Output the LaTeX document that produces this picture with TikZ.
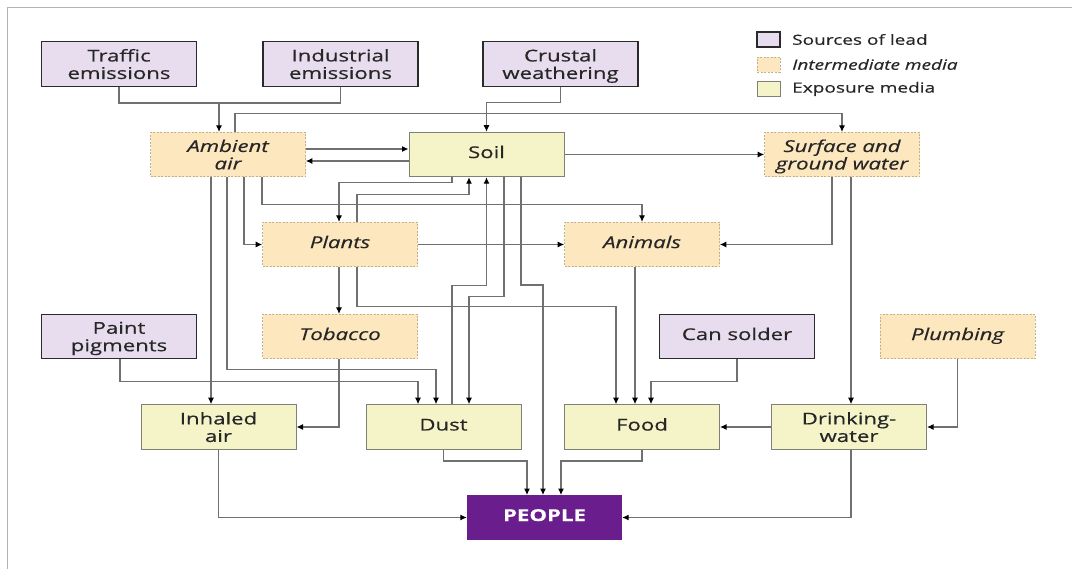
\documentclass[tikz,border=0pt]{standalone}
\usepackage{fontspec}
\setmainfont[FakeStretch=1.36,FakeBold=0.4]{Open Sans}
\usetikzlibrary{arrows.meta,calc}
\definecolor{srcfill}{HTML}{E7DDEE}
\definecolor{srcdraw}{HTML}{2A2A2A}
\definecolor{midfill}{HTML}{FCE7BF}
\definecolor{middraw}{HTML}{C4B28E}
\definecolor{expfill}{HTML}{F5F4C9}
\definecolor{expdraw}{HTML}{808076}
\definecolor{pplfill}{HTML}{6A1D8C}
\definecolor{txt}{HTML}{262626}
\definecolor{linegray}{HTML}{707070}
\definecolor{framegray}{HTML}{B4B4B4}
\begin{document}
\begin{tikzpicture}[x=1pt,y=-1pt,
  box/.style={minimum width=155pt, minimum height=44.5pt, inner sep=0pt, align=center,
    font=\fontsize{16.3}{17.5}\selectfont, text=txt,
    execute at begin node=\strut, execute at end node=\strut},
  twoline/.style={text depth=-0.5pt},
  src/.style={box, fill=srcfill, draw=srcdraw, line width=1.4pt},
  mid/.style={box, fill=midfill, draw=middraw, line width=0.6pt, dash pattern=on 2pt off 1.5pt,
    font=\fontsize{16.3}{17.5}\selectfont\itshape},
  expo/.style={box, fill=expfill, draw=expdraw, line width=1pt},
  ppl/.style={box, fill=pplfill, text=white, font=\fontsize{16.3}{17.5}\selectfont\bfseries},
  conn/.style={draw=linegray, line width=1.1pt, -{Latex[length=6.5pt,width=6pt,color=black]}},
  link/.style={draw=linegray, line width=1.1pt},
  legsq/.style={minimum width=23pt, minimum height=15pt, inner sep=0pt},
  legtxt/.style={anchor=west, font=\fontsize{14}{16}\selectfont, text=txt, inner sep=0pt}
]
\useasboundingbox (0,0) rectangle (1072,569);
\fill[white] (0,0) rectangle (1072,569);
\draw[framegray, line width=1pt] (7,569) -- (7,8) -- (1072,8);

% sources
\node[src, twoline] (traffic) at (119,64) {Traffic\\emissions};
\node[src, twoline] (industrial) at (340.5,64) {Industrial\\emissions};
\node[src, twoline] (crustal) at (560.5,64) {Crustal\\weathering};
\node[src, twoline] (paint) at (119,336.5) {Paint\\pigments};
\node[src] (cansolder) at (737,336.5) {Can solder};
% intermediate
\node[mid, twoline] (ambient) at (228,154.5) {Ambient\\air};
\node[mid, twoline] (surface) at (842,154.5) {Surface and\\ground water};
\node[mid] (plants) at (340,244.5) {Plants};
\node[mid] (animals) at (642,244.5) {Animals};
\node[mid] (tobacco) at (340,336.5) {Tobacco};
\node[mid] (plumbing) at (957.5,336.5) {Plumbing};
% exposure
\node[expo] (soil) at (486.5,154.5) {Soil};
\node[expo, twoline] (inhaled) at (218.5,427) {Inhaled\\air};
\node[expo] (dust) at (443.5,427) {Dust};
\node[expo] (food) at (642,427) {Food};
\node[expo, twoline] (drinking) at (849,427) {Drinking-\\water};
\node[ppl] (people) at (544.5,517.5) {PEOPLE};

% legend
\node[legsq, fill=srcfill, draw=srcdraw, line width=1.2pt] (lg1) at (768.5,39.5) {};
\node[legsq, fill=midfill, draw=middraw, line width=0.5pt, dash pattern=on 2pt off 1.5pt] (lg2) at (768.5,64.5) {};
\node[legsq, fill=expfill, draw=expdraw, line width=0.8pt] (lg3) at (768.5,89) {};
\node[legtxt] (lt1) at (792,39.5) {Sources of lead};
\node[legtxt] (lt2) at (792,64.5) {\itshape Intermediate media};
\node[legtxt] (lt3) at (792,89) {Exposure media};

% connectors
\coordinate (j1) at (219,103);
\draw[link] (traffic.south) |- (j1);
\draw[link] (industrial.south) |- (j1);
\draw[conn] (j1) -- (j1 |- ambient.north);
\draw[conn] (crustal.south) |- ([yshift=29pt]soil.north) -- (soil.north);
\draw[conn] ([xshift=7pt]ambient.north) |- ([yshift=18.5pt]surface.north) -- (surface.north);
\draw[conn] ([yshift=5.5pt]ambient.east) -- ([yshift=5.5pt]soil.west);
\draw[conn] ([yshift=-6.5pt]soil.west) -- ([yshift=-6.5pt]ambient.east);
\draw[conn] (soil.east) -- (surface.west);
\draw[conn] ([xshift=-17pt]ambient.south) -- ([xshift=-7.5pt]inhaled.north);
\draw[conn] ([xshift=-1pt]ambient.south) |- ([xshift=-7.5pt,yshift=34.5pt]dust.north) -- ([xshift=-7.5pt]dust.north);
\draw[conn] ([xshift=16pt]ambient.south) |- (plants.west);
\draw[conn] ([xshift=34pt]ambient.south) |- ([yshift=17pt]animals.north) -- (animals.north);
\draw[conn] ([xshift=-34.5pt]soil.south) |- ([xshift=-1pt,yshift=39pt]plants.north) -- ([xshift=-1pt]plants.north);
\draw[conn] ([xshift=17pt]plants.north) |- ([xshift=-17.5pt,yshift=-17pt]soil.south) -- ([xshift=-17.5pt]soil.south);
\draw[conn] ([xshift=8.5pt]dust.north) |- ([yshift=-108pt]soil.south) -- (soil.south);
\draw[conn] ([xshift=17.5pt]soil.south) |- ([xshift=25.5pt,yshift=107.5pt]dust.north) -- ([xshift=25.5pt]dust.north);
\draw[conn] ([xshift=34.5pt]soil.south) |- ([xshift=-1.5pt,yshift=210pt]people.north) -- ([xshift=-1.5pt]people.north);
\draw[conn] ([xshift=-1pt]plants.south) -- ([xshift=-1pt]tobacco.north);
\draw[conn] ([xshift=17pt]plants.south) |- ([xshift=-26pt,yshift=97.5pt]food.north) -- ([xshift=-26pt]food.north);
\draw[conn] (plants.east) -- (animals.west);
\draw[conn] ([xshift=-10pt]surface.south) |- (animals.east);
\draw[conn] ([xshift=9pt]surface.south) -- ([xshift=2pt]drinking.north);
\draw[conn] ([xshift=-7pt]animals.south) -- ([xshift=-7pt]food.north);
\draw[conn] (cansolder.south) |- ([xshift=9pt,yshift=22.5pt]food.north) -- ([xshift=9pt]food.north);
\draw[conn] (plumbing.south) |- (drinking.east);
\draw[conn] (drinking.west) -- (food.east);
\draw[conn] ([xshift=-1pt]tobacco.south) |- (inhaled.east);
\draw[conn] ([xshift=1pt]paint.south) |- ([xshift=-25.5pt,yshift=22.5pt]dust.north) -- ([xshift=-25.5pt]dust.north);
\draw[conn] (inhaled.south) |- (people.west);
\draw[conn] (dust.south) |- ([xshift=-17.5pt,yshift=34pt]people.north) -- ([xshift=-17.5pt]people.north);
\draw[conn] (food.south) |- ([xshift=16.5pt,yshift=34pt]people.north) -- ([xshift=16.5pt]people.north);
\draw[conn] ([xshift=2pt]drinking.south) |- (people.east);
\end{tikzpicture}
\end{document}
